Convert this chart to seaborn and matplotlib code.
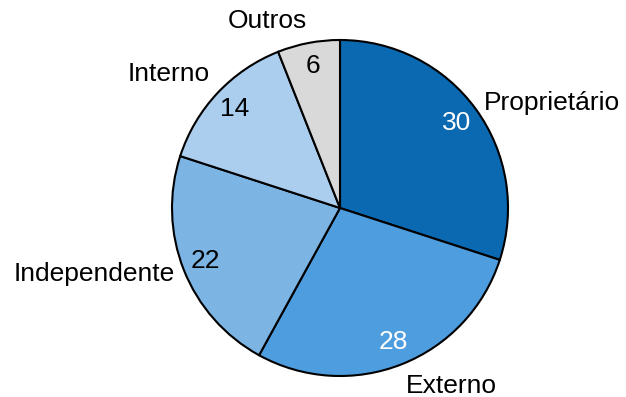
import numpy as np
import matplotlib
matplotlib.use("Agg")
import matplotlib.pyplot as plt
import seaborn as sns

categories = ["Proprietário", "Externo", "Independente", "Interno", "Outros"]
values = [30, 28, 22, 14, 6]
colors = ["#0a69b0", "#4e9ddf", "#7cb4e4", "#abcdee", "#d9d9d9"]
value_text_colors = ["white", "white", "black", "black", "black"]

sns.set_theme(style="white")
plt.rcParams["font.family"] = ["Liberation Sans", "DejaVu Sans"]

fig = plt.figure(figsize=(6.26, 3.97), dpi=100)
ax = fig.add_axes([0, 0, 1, 1])

wedges, texts, autotexts = ax.pie(
    values,
    labels=categories,
    colors=colors,
    startangle=90,
    counterclock=False,
    center=(340, 189),
    radius=168,
    labeldistance=1.06,
    pctdistance=0.86,
    autopct=lambda p: f"{p:.0f}",
    wedgeprops=dict(edgecolor="black", linewidth=1.5),
    textprops=dict(fontsize=19, color="black"),
)

# align each outer label away from the pie, based on its wedge's mid-angle
for w, t in zip(wedges, texts):
    mid = np.deg2rad((w.theta1 + w.theta2) / 2)
    c, s = np.cos(mid), np.sin(mid)
    t.set_ha("left" if c > 0 else "right")
    if s > 0.62:
        t.set_va("bottom")
    elif s < -0.5:
        t.set_va("top")
    else:
        t.set_va("center")

for t, col in zip(autotexts, value_text_colors):
    t.set_color(col)
    t.set_fontsize(19)

ax.set_xlim(0, 626)
ax.set_ylim(0, 397)
ax.set_aspect("equal")
ax.axis("off")

fig.savefig("out.png", dpi=100)
